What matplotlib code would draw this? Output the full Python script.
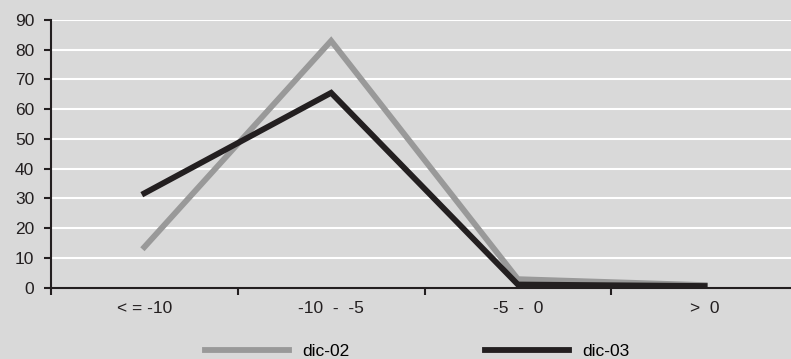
import matplotlib
matplotlib.use("Agg")
import matplotlib.pyplot as plt

# Datos
categorias = ["< = -10", "-10  -  -5", "-5  -  0", ">  0"]
dic_02 = [13.6, 83.0, 2.8, 0.8]
dic_03 = [31.7, 65.5, 1.0, 0.5]
y_ticks = list(range(0, 91, 10))

plt.rcParams["font.family"] = ["Liberation Sans Narrow", "Liberation Sans", "DejaVu Sans"]
plt.rcParams["font.size"] = 12.5

fondo = "#d9d9d9"
fig = plt.figure(figsize=(7.91, 3.59), dpi=100, facecolor=fondo)
ax = fig.add_axes([51 / 791, 1 - 287.5 / 359, 747 / 791, 267.5 / 359], facecolor=fondo)

x = list(range(len(categorias)))
ax.plot(x, dic_02, color="#999999", lw=4.2, label="dic-02", solid_joinstyle="miter")
ax.plot(x, dic_03, color="#231f20", lw=4.2, label="dic-03", solid_joinstyle="miter")

ax.set_xlim(-0.5, 3.5)
ax.set_ylim(0, 90)
ax.set_yticks(y_ticks)
ax.yaxis.grid(True, color="white", lw=1.5)
ax.set_axisbelow(True)

# ticks del eje x en los límites de categoría, etiquetas centradas
ax.set_xticks([-0.5, 0.5, 1.5, 2.5, 3.5])
ax.set_xticklabels([])
ax.set_xticks(x, minor=True)
ax.set_xticklabels(categorias, minor=True)
ax.tick_params(axis="x", which="minor", length=0, pad=10, labelcolor="#231f20")
ax.tick_params(axis="x", which="major", length=5, width=1.5, direction="out", color="#231f20")
ax.tick_params(axis="y", length=5, width=1.5, direction="out", color="#231f20",
               labelcolor="#231f20", pad=7)

for s in ["top", "right"]:
    ax.spines[s].set_visible(False)
for s in ["left", "bottom"]:
    ax.spines[s].set_color("#231f20")
    ax.spines[s].set_linewidth(1.5)

fig.legend(loc="center", bbox_to_anchor=(417 / 791, 1 - 351 / 359), ncol=2,
           frameon=False, handlelength=4.85, columnspacing=7.8, handletextpad=0.75)

fig.savefig("out.png", dpi=100, facecolor=fondo)
